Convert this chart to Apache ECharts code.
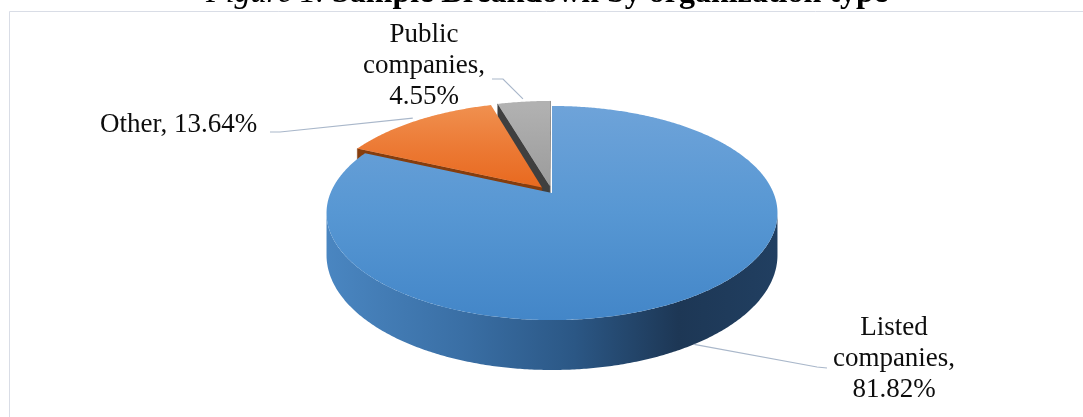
<!DOCTYPE html>
<html>
<head>
<meta charset="utf-8">
<script src="https://cdn.jsdelivr.net/npm/echarts@6/dist/echarts.min.js"></script>
<style>
  html, body { margin: 0; padding: 0; background: #ffffff; }
  #chart { width: 1083px; height: 417px; }
</style>
</head>
<body>
<div id="chart"></div>
<script>
// Sample breakdown by organization type (percent of sample)
const categories = ['Listed companies', 'Other', 'Public companies'];
const shares = [81.82, 13.64, 4.55];

// Appearance of each slice: top-face gradient, side colour, explosion distance
const topColors = [
  ['#6ea3d9', '#5797d3', '#4386c8'],
  ['#f0904f', '#ec7a35', '#e8691f'],
  ['#b1b1b1', '#a6a6a6', '#9c9c9c']
];
const sideColors = ['#2d5a89', '#853d0e', '#3f3f3f'];
const explodeBy = [0, 0.07, 0.07];

// Tilted-disc projection of the 3D pie
const PIE = { cx: 552, cy: 193, sx: 221.5, sy: 103.3, k: 0.187, depth: 40.6 };
const FONT = '"Liberation Serif", "Times New Roman", serif';

// Where each data label sits and the elbow of its leader line
const labelLayout = [
  { x: 894, y: 359, align: 'center', wrap: true,  elbow: [[827, 368], [817, 367]] },
  { x: 100, y: 125, align: 'left',   wrap: false, elbow: [[270, 132], [280, 132]] },
  { x: 424, y: 65.5, align: 'center', wrap: true, elbow: [[492, 79], [503, 79]] }
];

const total = shares.reduce((a, b) => a + b, 0);
const TAU = Math.PI * 2;

function project(X, Y, Z) {
  const w = 1 + PIE.k * Y;
  return [PIE.cx + PIE.sx * X / w, PIE.cy - (PIE.sy * Y + PIE.depth * Z) / w];
}

function sliceAngles(idx) {
  let start = 0;
  for (let i = 0; i < idx; i++) start += shares[i] / total * TAU;
  return [start, start + shares[idx] / total * TAU];
}

function arcPoints(a0, a1, ex, ey, r, Z) {
  const pts = [];
  const n = Math.max(2, Math.ceil((a1 - a0) / (Math.PI / 360)));
  for (let j = 0; j <= n; j++) {
    const t = a0 + (a1 - a0) * j / n;
    pts.push(project(r * Math.sin(t) + ex, r * Math.cos(t) + ey, Z));
  }
  return pts;
}

function labelText(i) {
  const name = labelLayout[i].wrap ? categories[i].split(' ').join('\n') : categories[i];
  return name + ',' + (labelLayout[i].wrap ? '\n' : ' ') + shares[i].toFixed(2) + '%';
}

// Far slices are painted first
const drawRank = (function () {
  const mids = shares.map((v, i) => {
    const [a0, a1] = sliceAngles(i);
    return { i, c: Math.cos((a0 + a1) / 2) };
  });
  mids.sort((a, b) => b.c - a.c);
  const rank = [];
  mids.forEach((m, r) => { rank[m.i] = r; });
  return rank;
})();

const topY = PIE.cy - PIE.sy / (1 + PIE.k);
const botY = PIE.cy + PIE.sy / (1 - PIE.k);
const leftX = PIE.cx - PIE.sx * 1.02;
const rightX = PIE.cx + PIE.sx * 1.02;

function renderSlice(params, api) {
  const i = params.dataIndex;
  const [a0, a1] = sliceAngles(i);
  const mid = (a0 + a1) / 2;
  const e = explodeBy[i];
  const ex = e * Math.sin(mid), ey = e * Math.cos(mid);
  const base = drawRank[i] * 10;
  const children = [];
  const apexTop = project(ex, ey, 0);
  const apexBot = project(ex, ey, -1);

  // outer wall (front-facing part only)
  const lim = Math.acos(-PIE.k);
  const lo = Math.max(a0, lim), hi = Math.min(a1, TAU - lim);
  if (hi > lo) {
    const top = arcPoints(lo, hi, ex, ey, 1, 0);
    const bot = arcPoints(lo, hi, ex, ey, 1, -1).reverse();
    children.push({
      type: 'polygon', z2: base + 2,
      shape: { points: top.concat(bot) },
      style: {
        fill: {
          type: 'linear', x: leftX, y: 0, x2: rightX, y2: 0, global: true,
          colorStops: [
            { offset: 0, color: '#4a86c1' },
            { offset: 0.3, color: '#3a6fa5' },
            { offset: 0.55, color: '#2b5785' },
            { offset: 0.78, color: '#1d3755' },
            { offset: 1, color: '#213f61' }
          ]
        }
      }
    });
  }

  // radial faces visible from the viewpoint
  const camY = -1 / PIE.k;
  [[a0, -1], [a1, 1]].forEach(([t, sgn]) => {
    const nx = sgn * Math.cos(t), ny = -sgn * Math.sin(t);
    const dot = nx * (0 - ex) + ny * (camY - ey);
    if (dot > 1e-3) {
      const rimT = project(Math.sin(t) + ex, Math.cos(t) + ey, 0);
      const rimB = project(Math.sin(t) + ex, Math.cos(t) + ey, -1);
      children.push({
        type: 'polygon', z2: base + 1,
        shape: { points: [apexTop, rimT, rimB, apexBot] },
        style: { fill: sideColors[i], stroke: sideColors[i], lineWidth: 0.5 }
      });
    }
  });

  // top face
  const c = topColors[i];
  children.push({
    type: 'polygon', z2: base + 3,
    shape: { points: [apexTop].concat(arcPoints(a0, a1, ex, ey, 1, 0)) },
    style: {
      fill: {
        type: 'linear', x: 0, y: topY, x2: 0, y2: i === 0 ? botY : apexTop[1], global: true,
        colorStops: [
          { offset: 0, color: c[0] },
          { offset: 0.5, color: c[1] },
          { offset: 1, color: c[2] }
        ]
      }
    }
  });

  // leader line and label
  const L = labelLayout[i];
  const near = Math.cos(mid) < 0;
  const r = near ? 1 : 1.04;
  const anchor = project(r * Math.sin(mid) + ex, r * Math.cos(mid) + ey, near ? -1 : 0);
  children.push({
    type: 'polyline', z2: 90,
    shape: { points: L.elbow.concat([anchor]) },
    style: { stroke: '#a9b7ca', lineWidth: 1.2, fill: null }
  });
  children.push({
    type: 'text', z2: 100,
    x: L.x, y: L.y,
    style: {
      text: labelText(i),
      fill: '#0d0d0d',
      fontSize: 27,
      fontFamily: FONT,
      lineHeight: 31,
      align: L.align,
      verticalAlign: 'middle'
    }
  });

  return { type: 'group', children: children };
}

const chart = echarts.init(document.getElementById('chart'), null, { renderer: 'canvas' });
chart.setOption({
  backgroundColor: '#ffffff',
  animation: false,
  graphic: [
    {
      type: 'rect', silent: true, z: -10,
      shape: { x: 9.5, y: 11.5, width: 1200, height: 600 },
      style: { fill: 'none', stroke: '#d9dde6', lineWidth: 1 }
    },
    {
      type: 'text', silent: true,
      x: 547, y: -6,
      style: {
        text: '{i|Figure 1.} {b|Sample Breakdown by organization type}',
        fontSize: 32, fontFamily: FONT, fill: '#000',
        align: 'center', verticalAlign: 'middle',
        rich: {
          i: { fontStyle: 'italic', fontSize: 32, fontFamily: FONT, fill: '#000' },
          b: { fontWeight: 'bold', fontSize: 32, fontFamily: FONT, fill: '#000' }
        }
      }
    }
  ],
  series: [{
    type: 'custom',
    coordinateSystem: 'none',
    renderItem: renderSlice,
    data: shares.map((v, i) => ({ name: categories[i], value: [i, v] }))
  }]
});
</script>
</body>
</html>
